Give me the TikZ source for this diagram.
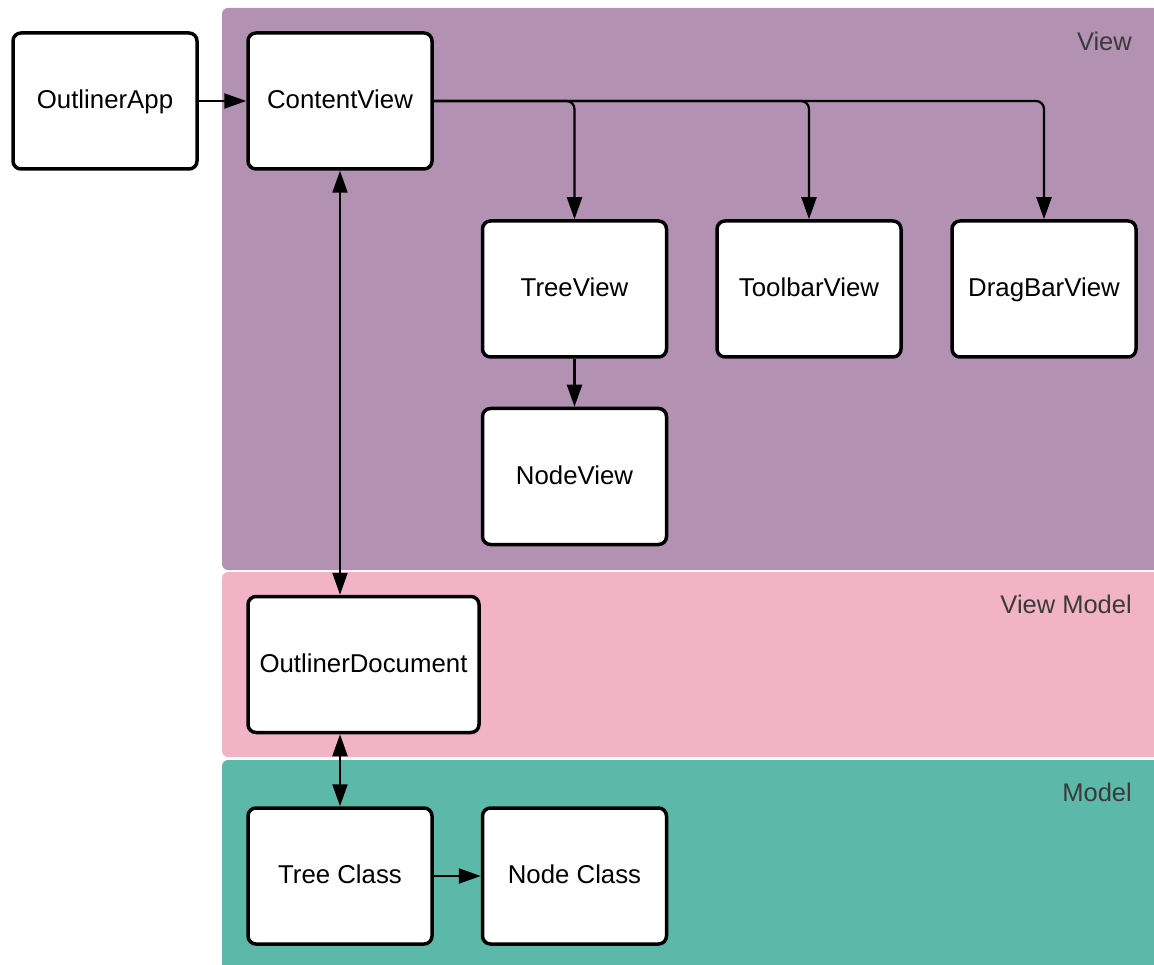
\documentclass[tikz,border=0pt]{standalone}
\usepackage{fontspec}
\setmainfont{Liberation Sans}
\usetikzlibrary{arrows.meta}
\definecolor{viewc}{HTML}{B391B3}
\definecolor{vmc}{HTML}{F3B3C6}
\definecolor{modc}{HTML}{5CB8A8}
\definecolor{labc}{HTML}{3A3A3A}
\begin{document}
\begin{tikzpicture}[x=1pt,y=-1pt,
  box/.style={draw=black, line width=3.5pt, fill=white, rounded corners=8pt,
    minimum width=184pt, minimum height=136pt, inner sep=0pt,
    text height=18.5pt, text depth=3pt,
    font=\fontsize{25.8}{30}\selectfont},
  wbox/.style={box, minimum width=231pt},
  tip/.tip={Triangle[length=22pt,width=15pt]},
  arr/.style={line width=2.2pt, -tip},
  darr/.style={line width=2.2pt, tip-tip},
  region/.style={rounded corners=6pt},
  rlabel/.style={anchor=east, text=labc, inner sep=0pt, font=\fontsize{25.5}{30}\selectfont}
]
\useasboundingbox (0,0) rectangle (1154,965);
\clip (0,0) rectangle (1154,965);
% regions
\fill[viewc, region] (222,8) rectangle (1175,570);
\fill[vmc, region] (222,572) rectangle (1175,757);
\fill[modc, region] (222,760) rectangle (1175,990);
\node[rlabel] (lview) at (1132,41) {View};
\node[rlabel] (lvm) at (1132,604) {View Model};
\node[rlabel] (lmod) at (1132,792) {Model};
% nodes
\node[box] (app) at (105,101) {OutlinerApp};
\node[box] (cv) at (340,101) {ContentView};
\node[box] (tv) at (574.5,289) {TreeView};
\node[box] (tb) at (809,289) {ToolbarView};
\node[box] (db) at (1044,289) {DragBarView};
\node[box] (nv) at (574.5,476.5) {NodeView};
\node[wbox] (od) at (363.5,664.5) {OutlinerDocument};
\node[box] (tc) at (340,876) {Tree Class};
\node[box] (nc) at (574.5,876) {Node Class};
% connectors
\draw[arr] (app.east) -- (cv.west);
\draw[arr, rounded corners=8pt] (cv.east) -| (tv.north);
\draw[arr, rounded corners=8pt] (cv.east) -| (tb.north);
\draw[arr, rounded corners=8pt] (cv.east) -| (db.north);
\draw[arr] (tv.south) -- (nv.north);
\draw[darr] (cv.south) -- (cv.south |- od.north);
\draw[darr] (tc.north |- od.south) -- (tc.north);
\draw[arr] (tc.east) -- (nc.west);
\end{tikzpicture}
\end{document}
